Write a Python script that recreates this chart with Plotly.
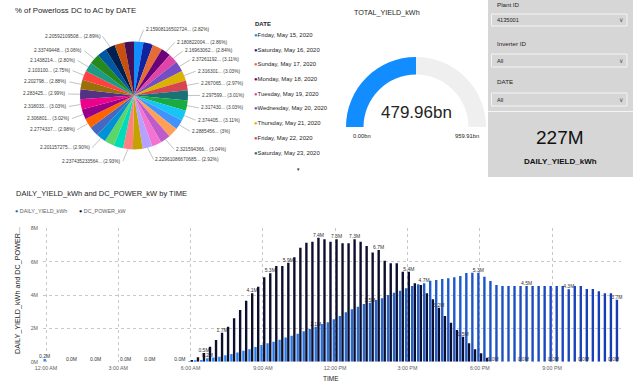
import math
import plotly.graph_objects as go

W, H = 639, 385
FONT = "Liberation Sans, Arial, sans-serif"
DARK = "#252423"
GREY = "#605E5C"

# ---------------- data ----------------
dates = [
    "Friday, May 15, 2020", "Saturday, May 16, 2020", "Sunday, May 17, 2020", "Monday, May 18, 2020",
    "Tuesday, May 19, 2020", "Wednesday, May 20, 2020", "Thursday, May 21, 2020", "Friday, May 22, 2020",
    "Saturday, May 23, 2020", "Sunday, May 24, 2020", "Monday, May 25, 2020", "Tuesday, May 26, 2020",
    "Wednesday, May 27, 2020", "Thursday, May 28, 2020", "Friday, May 29, 2020", "Saturday, May 30, 2020",
    "Sunday, May 31, 2020", "Monday, June 1, 2020", "Tuesday, June 2, 2020", "Wednesday, June 3, 2020",
    "Thursday, June 4, 2020", "Friday, June 5, 2020", "Saturday, June 6, 2020", "Sunday, June 7, 2020",
    "Monday, June 8, 2020", "Tuesday, June 9, 2020", "Wednesday, June 10, 2020", "Thursday, June 11, 2020",
    "Friday, June 12, 2020", "Saturday, June 13, 2020", "Sunday, June 14, 2020", "Monday, June 15, 2020",
    "Tuesday, June 16, 2020", "Wednesday, June 17, 2020",
]
powerloss = [
    2.15908116502724, 2.20, 2.25, 2.180822004, 2.16963062, 2.37261192, 2.316301, 2.267065,
    2.297599, 2.317430, 2.374405, 2.2885456, 2.25, 2.321594366, 2.20, 2.22961086670685,
    2.20, 2.237435233564, 2.20, 2.20, 2.201157275, 2.22, 2.2774337, 2.306801,
    2.318033, 2.283425, 2.202798, 2.103100, 2.1438214, 2.33749448, 2.20, 2.20592109508,
    2.24, 2.22,
]
pie_labels = [
    "2.15908116502724... (2.82%)", None, None, "2.180822004... (2.86%)", "2.16963062... (2.84%)",
    "2.37261192... (3.11%)", "2.316301... (3.03%)", "2.267065... (2.97%)", "2.297599... (3.01%)",
    "2.317430... (3.03%)", "2.374405... (3.11%)", "2.2885456... (3%)", None,
    "2.321594366... (3.04%)", None, "2.22961086670685... (2.92%)", None,
    "2.237435233564... (2.93%)", None, None, "2.201157275... (2.90%)", None,
    "2.2774337... (2.98%)", "2.306801... (3.02%)", "2.318033... (3.03%)", "2.283425... (2.99%)",
    "2.202798... (2.88%)", "2.103100... (2.75%)", "2.1438214... (2.80%)", "2.33749448... (3.06%)",
    None, "2.20592109508... (2.89%)", None, None,
]
palette = [
    "#118DFF", "#12239E", "#E66C37", "#6B007B", "#E044A7", "#744EC2", "#D9B300", "#D64550",
    "#197278", "#1AAB40", "#15C6F4", "#4092FF", "#FFA058", "#BE5DC9", "#F472D0", "#B5A1FF",
    "#C4A200", "#FF8080", "#00DBBC", "#5BD667", "#0091D5", "#4668C5", "#FF6300", "#99008A",
    "#EC008C", "#533285", "#99700A", "#FF4141", "#1F9A85", "#25891C", "#0057A2", "#002050",
    "#C94F0F", "#450F54",
]
legend_visible = 9

total_yield = 479.96
total_yield_max = 959.91
card_value = "227M"

time_tick_slots = [0, 12, 24, 36, 48, 60, 72, 84]
time_tick_text = ["12:00 AM", "3:00 AM", "6:00 AM", "9:00 AM", "12:00 PM", "3:00 PM", "6:00 PM", "9:00 PM"]
slots = list(range(96))

# millions, one value per 15-minute slot
daily_yield = (
    [0.16] + [0.0] * 23 +
    [0.02, 0.05, 0.10, 0.20, 0.25, 0.30, 0.38, 0.46, 0.55, 0.65, 0.75, 0.88,
     1.00, 1.10, 1.20, 1.32, 1.45, 1.55, 1.68, 1.82, 1.96, 2.10, 2.26, 2.36,
     2.54, 2.74, 2.96, 3.14, 3.30, 3.46, 3.54, 3.70, 3.80, 4.00, 4.14, 4.26,
     4.40, 4.54, 4.64, 4.70, 4.86, 4.90, 4.96, 5.00, 5.06, 5.14, 5.32, 5.34,
     5.34, 5.10, 4.84, 4.60, 4.54, 4.54, 4.54, 4.54, 4.54, 4.54, 4.54, 4.54,
     4.54, 4.54, 4.54, 4.34, 4.54, 4.54, 4.36, 4.36, 4.22, 4.10, 4.10, 3.72]
)
dc_power = (
    [0.0] * 24 +
    [0.10, 0.27, 0.52, 0.90, 1.30, 1.74, 2.10, 2.60, 3.10, 3.66, 4.10, 4.50,
     5.06, 5.30, 5.74, 5.74, 5.94, 6.26, 6.84, 7.14, 7.20, 7.44, 7.34, 7.20,
     7.34, 7.10, 7.10, 7.34, 7.20, 6.94, 6.55, 6.70, 6.06, 5.90, 5.90, 5.40,
     5.40, 4.70, 4.60, 4.10, 3.75, 3.24, 2.74, 2.34, 1.90, 1.50, 1.10, 0.74,
     0.50, 0.24] + [0.0] * 22
)
yield_label_slots = [0, 27, 45, 54, 63, 72, 80, 87, 95]
power_label_slots = [4, 8, 13, 17, 22, 26, 29, 34, 37, 40, 45, 48, 51, 55, 60, 65, 69, 74, 79, 84, 89, 94]


def px(x):
    return x / W


def py(y):
    return 1 - y / H


fig = go.Figure()
annotations = []
shapes = []


def txt(x, y, s, size, color=DARK, xanchor="left", yanchor="middle", bold=False, angle=0):
    annotations.append(dict(
        x=px(x), y=py(y), xref="paper", yref="paper", text=("<b>%s</b>" % s) if bold else s,
        showarrow=False, xanchor=xanchor, yanchor=yanchor, textangle=angle,
        font=dict(family=FONT, size=size, color=color)))


# ---------------- pie ----------------
cx, cy, r = 134, 95.5, 54
fig.add_trace(go.Pie(
    labels=dates, values=powerloss, sort=False, direction="clockwise", rotation=0,
    marker=dict(colors=palette, line=dict(width=0)), textinfo="none", showlegend=False,
    domain=dict(x=[px(cx - r), px(cx + r)], y=[py(cy + r), py(cy - r)]),
))

tot = sum(powerloss)
cum = 0.0
sides = {"r": [], "l": []}
for v, lab in zip(powerloss, pie_labels):
    mid = (cum + v / 2) / tot * 2 * math.pi
    cum += v
    if lab is None:
        continue
    s, c = math.sin(mid), math.cos(mid)
    ex, ey = cx + r * s, cy - r * c
    ly = cy - (r + 12) * c
    lx = cx + s * (r + 8) + (4 if s >= 0 else -4)
    sides["r" if s >= 0 else "l"].append([ly, lx, ex, ey, lab])

for key, items in sides.items():
    items.sort(key=lambda t: t[0])
    for i in range(1, len(items)):
        if items[i][0] < items[i - 1][0] + 8.5:
            items[i][0] = items[i - 1][0] + 8.5
    for ly, lx, ex, ey, lab in items:
        annotations.append(dict(
            x=px(ex), y=py(ey), xref="paper", yref="paper", text=lab,
            showarrow=True, arrowhead=0, arrowwidth=0.6, arrowcolor="#9A9A9A", standoff=0,
            ax=lx - ex, ay=ly - ey, xanchor="left" if key == "r" else "right", yanchor="middle",
            font=dict(family=FONT, size=4.8, color="#3A3A3A")))

txt(13, 10, "% of Powerloss DC to AC by DATE", 7.8)
txt(253, 24, "DATE", 6, bold=True)
for i in range(legend_visible):
    txt(252, 35 + 14.7 * i,
        "<span style='color:%s'>●</span>%s" % (palette[i], dates[i]), 5.9, color=DARK)
txt(298, 169, "▼", 4.5, color="#333333", xanchor="center")

# ---------------- gauge ----------------
R = 70
gx, gy = 416, 127
fig.add_trace(go.Indicator(
    mode="gauge", value=total_yield,
    domain=dict(x=[px(gx - R), px(gx + R)], y=[py(gy), py(gy - R)]),
    gauge=dict(shape="angular", axis=dict(range=[0, total_yield_max], visible=False),
               bar=dict(color="#118DFF", thickness=1), bgcolor="#EFEFEF", borderwidth=0),
))
txt(352, 12, "TOTAL_YIELD_kWh", 7.2)
txt(gx, 112, "%.2fbn" % total_yield, 17, color=DARK, xanchor="center")
txt(362, 136, "%.2fbn" % 0, 5.8, xanchor="center")
txt(467, 136, "%.2fbn" % total_yield_max, 5.8, xanchor="center")

# ---------------- slicer panel + card ----------------
shapes.append(dict(type="rect", xref="paper", yref="paper", x0=px(488), x1=px(633), y0=py(177), y1=py(0),
                   fillcolor="#D6D6D6", line=dict(width=0), layer="below"))
for (t_lab, t_val, y_lab, y0, y1) in [("Plant ID", "4135001", 4, 14, 26),
                                      ("Inverter ID", "All", 43, 54, 67),
                                      ("DATE", "All", 82, 93, 106)]:
    txt(495, y_lab, t_lab, 6.2, color="#222222")
    shapes.append(dict(type="rect", xref="paper", yref="paper", x0=px(491.5), x1=px(627), y0=py(y1), y1=py(y0),
                       line=dict(color="#F4F4F4", width=1), fillcolor="rgba(0,0,0,0)"))
    txt(495, (y0 + y1) / 2, t_val, 5.6, color="#222222")
    txt(621, (y0 + y1) / 2, "∨", 6, color="#555555", xanchor="center")
shapes.append(dict(type="line", xref="paper", yref="paper", x0=px(488), x1=px(633), y0=py(111.5), y1=py(111.5),
                   line=dict(color="#F4F4F4", width=1)))
txt(560, 137, card_value, 19, color="#111111", xanchor="center")
txt(560, 161, "DAILY_YIELD_kWh", 8, color="#111111", xanchor="center", bold=True)

# ---------------- bar chart ----------------
x0p, x1p = 43, 621.3
y0p, y1p = 228.3, 361.7


def labels(vals, which):
    return ["%.1fM" % v if i in which else "" for i, v in enumerate(vals)]


fig.add_trace(go.Bar(
    x=slots, y=daily_yield, name="DAILY_YIELD_kWh", xaxis="x", yaxis="y",
    marker=dict(color=slots, colorscale=[[0, "#2B88F2"], [1, "#173CB4"]], cmin=24, cmax=95, line=dict(width=0)),
    text=labels(daily_yield, yield_label_slots), textposition="outside", constraintext="none",
    textfont=dict(family=FONT, size=5, color="#333333"), cliponaxis=False, showlegend=False,
))
fig.add_trace(go.Bar(
    x=slots, y=dc_power, name="DC_POWER_kW", xaxis="x", yaxis="y",
    marker=dict(color="#0C0E2C", line=dict(width=0)),
    text=labels(dc_power, power_label_slots), textposition="outside", constraintext="none",
    textfont=dict(family=FONT, size=5, color="#333333"), cliponaxis=False, showlegend=False,
))

txt(14, 194, "DAILY_YIELD_kWh and DC_POWER_kW by TIME", 7.5)
txt(13, 211, "<span style='color:#1F5FCC'>●</span> DAILY_YIELD_kWh", 5.4, color=GREY)
txt(77, 211, "<span style='color:#0C0E2C'>●</span> DC_POWER_kW", 5.4, color=GREY)
txt(17, 291, "DAILY_YIELD_kWh and DC_POWER...", 7.2, color=DARK, xanchor="center", angle=-90)
txt(331, 378.5, "TIME", 6.5, color=DARK, xanchor="center")

fig.update_layout(
    width=W, height=H, autosize=False, margin=dict(l=0, r=0, t=0, b=0, autoexpand=False),
    paper_bgcolor="white", plot_bgcolor="white",
    font=dict(family=FONT, color=GREY),
    barmode="group", bargap=0.1, bargroupgap=0.12,
    xaxis=dict(domain=[px(x0p), px(x1p)], range=[-0.5, 95.5], tickmode="array",
               tickvals=time_tick_slots, ticktext=time_tick_text, showgrid=True, automargin=False,
               ticklabelstandoff=2,
               gridcolor="#C8C8C8", griddash="dot", gridwidth=1, zeroline=False, showline=False,
               ticks="", tickfont=dict(family=FONT, size=5.3, color=GREY), anchor="y"),
    yaxis=dict(domain=[py(y1p), py(y0p)], range=[0, 8], tickmode="array", tickvals=[0, 2, 4, 6, 8],
               ticktext=["0M", "2M", "4M", "6M", "8M"], automargin=False, ticklabelstandoff=4,
               showgrid=True, gridcolor="#C8C8C8", griddash="dot", gridwidth=1, zeroline=False,
               showline=False, ticks="", tickfont=dict(family=FONT, size=5.3, color=GREY), anchor="x"),
    annotations=annotations, shapes=shapes,
)

fig.write_html("out.html", config={"displayModeBar": False},
               post_script="document.body.style.margin='0px';")
